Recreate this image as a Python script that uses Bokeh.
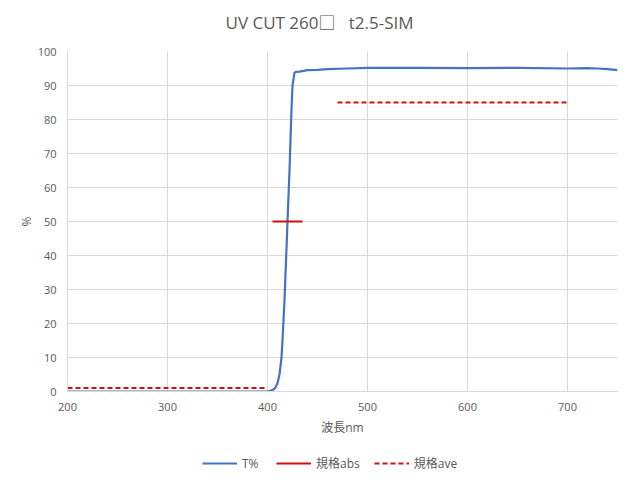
from bokeh.plotting import figure
from bokeh.layouts import column
from bokeh.models import Range1d, FixedTicker, Legend, LegendItem, Label
from bokeh.embed import file_html
from bokeh.resources import INLINE

# ---- data ----
wl = [200, 250, 300, 350, 380, 395, 400, 403, 406, 408, 410, 412, 414, 415, 417, 419,
      420, 422, 424, 425, 427, 429, 432, 440, 450, 460, 480, 500, 550, 600, 650, 700,
      720, 730, 740, 750]
t_pct = [0, 0, 0, 0, 0, 0, 0.05, 0.2, 0.6, 1.2, 2.5, 5, 10, 15, 27, 42,
         50, 65, 83, 90, 93.8, 94.0, 94.1, 94.5, 94.6, 94.8, 95.0, 95.2, 95.2, 95.1, 95.2, 95.0,
         95.1, 95.0, 94.8, 94.5]

abs_x = [405, 435]
abs_y = [50, 50]

ave1_x = [200, 400]
ave1_y = [1, 1]
ave2_x = [470, 700]
ave2_y = [85, 85]

x_ticks = [200, 300, 400, 500, 600, 700]
y_ticks = [0, 10, 20, 30, 40, 50, 60, 70, 80, 90, 100]

title_text = "UV CUT 260\u25a1\u00a0\u00a0\u00a0t2.5-SIM"
x_label = "波長nm"
y_label = "%"
legend_labels = ["T%", "規格abs", "規格ave"]

FONT = "'Open Sans', 'Noto Sans CJK JP'"
TXT = "#595959"
BLUE = "#4472C4"
RED = "#D01010"

# ---- title strip ----
tf = figure(width=626, height=40, output_backend="svg", toolbar_location=None,
            x_range=Range1d(200, 750), y_range=Range1d(0, 40),
            x_axis_location=None, y_axis_location=None,
            min_border_left=0, min_border_right=0, min_border_top=0, min_border_bottom=0,
            title=None)
tf.grid.visible = False
tf.outline_line_color = None
tf.border_fill_color = "white"
tf.add_layout(Label(x=452, y=18, text=title_text, text_align="center", text_baseline="middle",
                    text_font=FONT, text_font_size="17px", text_color=TXT))

# ---- main chart ----
p = figure(width=626, height=405, output_backend="svg", toolbar_location=None,
           x_range=Range1d(200, 750), y_range=Range1d(0, 100),
           min_border_left=67, min_border_right=9, min_border_top=11, min_border_bottom=54,
           title=None)
p.outline_line_color = None
p.background_fill_color = "white"
p.border_fill_color = "white"

p.xgrid.ticker = FixedTicker(ticks=x_ticks)
p.xgrid.grid_line_color = "#d9d9d9"
p.xgrid.minor_grid_line_color = "#efefef"
p.ygrid.ticker = FixedTicker(ticks=y_ticks)
p.ygrid.grid_line_color = "#d9d9d9"

p.xaxis.ticker = FixedTicker(ticks=x_ticks, minor_ticks=list(range(200, 751, 20)))
p.yaxis.ticker = FixedTicker(ticks=y_ticks)

for ax in (p.xaxis[0], p.yaxis[0]):
    ax.major_tick_line_color = None
    ax.minor_tick_line_color = None
    ax.major_tick_out = 0
    ax.minor_tick_out = 0
    ax.major_tick_in = 0
    ax.minor_tick_in = 0
    ax.major_label_text_font = FONT
    ax.major_label_text_font_size = "11px"
    ax.major_label_text_color = TXT
    ax.axis_label_text_font = FONT
    ax.axis_label_text_font_size = "12px"
    ax.axis_label_text_color = TXT
    ax.axis_label_text_font_style = "normal"

p.yaxis.axis_line_color = "#d9d9d9"
p.xaxis.axis_line_color = "#d9d9d9"
p.xaxis.axis_label = x_label
p.yaxis.axis_label = y_label
p.xaxis.major_label_standoff = 11
p.yaxis.major_label_standoff = 11
p.xaxis.axis_label_standoff = 5
p.yaxis.axis_label_standoff = 0

r1 = p.line(wl, t_pct, line_color=BLUE, line_width=2.2)
r2 = p.line(abs_x, abs_y, line_color=RED, line_width=2.2)
r3a = p.line(ave1_x, ave1_y, line_color=RED, line_width=2, line_dash="5 3")
r3b = p.line(ave2_x, ave2_y, line_color=RED, line_width=2, line_dash="5 3")

# ---- legend strip (same glyph styles) ----
lf = figure(width=626, height=30, output_backend="svg", toolbar_location=None,
            x_range=Range1d(0, 1), y_range=Range1d(0, 1),
            x_axis_location=None, y_axis_location=None,
            min_border_left=0, min_border_right=0, min_border_top=0, min_border_bottom=0,
            title=None)
lf.grid.visible = False
lf.outline_line_color = None
lf.border_fill_color = "white"
l1 = lf.line([-5, -4], [-5, -5], line_color=BLUE, line_width=2.2)
l2 = lf.line([-5, -4], [-5, -5], line_color=RED, line_width=2.2)
l3 = lf.line([-5, -4], [-5, -5], line_color=RED, line_width=2, line_dash="5 3")

legend = Legend(items=[LegendItem(label=legend_labels[0], renderers=[l1]),
                       LegendItem(label=legend_labels[1], renderers=[l2]),
                       LegendItem(label=legend_labels[2], renderers=[l3])],
                orientation="horizontal", location=(135, 2),
                label_text_font=FONT, label_text_font_size="12px", label_text_color=TXT,
                glyph_width=35, label_standoff=5, spacing=14, padding=0, margin=0,
                border_line_color=None, background_fill_alpha=0)
lf.add_layout(legend, "center")

layout = column(tf, p, lf, spacing=0)
open("out.html", "w").write(file_html(layout, INLINE))
